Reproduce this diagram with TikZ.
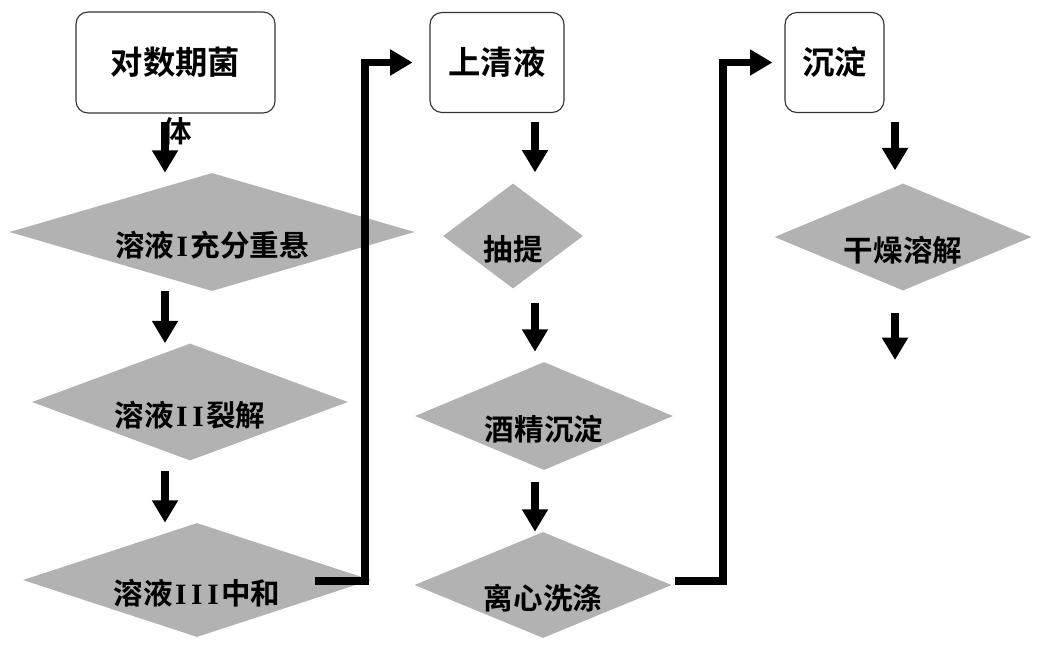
\documentclass[tikz,border=0pt]{standalone}
\usepackage{fontspec}
\setmainfont{Noto Sans CJK SC}[BoldFont=* Bold]
\newfontfamily\serifI{Liberation Serif}
\usetikzlibrary{arrows.meta,shapes.geometric}
\definecolor{procgray}{gray}{0.70}
\newcommand\rmI{\hbox to 0.55em{\hss{\serifI\bfseries I}\hss}}

\begin{document}
\begin{tikzpicture}[x = 0.025cm, y = -0.025cm,
                    box/.style = {draw = black!80, line width = 0.8pt, rounded corners = 0.3cm, fill = white, inner sep = 0pt, font = \fontsize{23pt}{27pt}\selectfont\bfseries},
                    proc/.style = {diamond, fill = procgray, inner sep = 0pt, text height = 1.32cm, text depth = 0.1cm, font = \fontsize{21pt}{25pt}\selectfont\bfseries},
                    flow/.style = {line width = 5pt, line join = miter, -{Triangle[length = 0.56cm, width = 0.62cm]}}]
  \useasboundingbox (0, 0) rectangle (1038, 645);

  % boxes
  \node [box, minimum width = 4.975cm, minimum height = 2.525cm] (B1) at (175.5, 62.5) {对数期菌};
  \node [box, minimum width = 3.35cm, minimum height = 2.5cm] (B2) at (497, 62.5) {上清液};
  \node [box, minimum width = 2.475cm, minimum height = 2.5cm] (B3) at (834.5, 62.5) {沉淀};

  % steps
  \node [proc, aspect = 3.43, minimum width = 10.125cm, minimum height = 2.95cm] (P1) at (212, 232) {溶液\rmI 充分重悬};
  \node [proc, aspect = 2.70, minimum width = 7.9cm, minimum height = 2.925cm] (P2) at (190, 402) {溶液\rmI\rmI 裂解};
  \node [proc, aspect = 3.05, minimum width = 8.7cm, minimum height = 2.85cm] (P3) at (197, 580) {溶液\rmI\rmI\rmI 中和};
  \node [proc, aspect = 1.33, minimum width = 3.5cm, minimum height = 2.625cm] (P4) at (513, 236) {抽提};
  \node [proc, aspect = 2.39, minimum width = 6.45cm, minimum height = 2.7cm] (P5) at (544, 416) {酒精沉淀};
  \node [proc, aspect = 2.42, minimum width = 6.425cm, minimum height = 2.65cm] (P6) at (543, 585) {离心洗涤};
  \node [proc, aspect = 2.40, minimum width = 6.425cm, minimum height = 2.675cm] (P7) at (903, 237) {干燥溶解};

  \node [font = \fontsize{21pt}{25pt}\selectfont\bfseries] (T1) at (177, 131) {体};

  \coordinate (c1) at (165, 0);
  \coordinate (c2) at (535, 0);
  \coordinate (c3) at (895, 0);
  \coordinate (out1) at (315, 581);
  \coordinate (out2) at (675, 581);
  \coordinate (end) at (895, 360);

  \draw [flow, shorten < = 0.22cm] (B1.south -| c1) -- (P1.north -| c1);
  \draw [flow] (P1.south -| c1) -- (P2.north -| c1);
  \draw [flow, shorten < = 0.25cm] (P2.south -| c1) -- (P3.north -| c1);

  \draw [flow, shorten < = 0.22cm, shorten > = 0.27cm] (B2.south -| c2) -- (P4.north -| c2);
  \draw [flow, shorten < = 0.35cm, shorten > = 0.25cm] (P4.south -| c2) -- (P5.north -| c2);
  \draw [flow, shorten < = 0.3cm] (P5.south -| c2) -- (P6.north -| c2);

  \draw [flow, shorten < = 0.22cm, shorten > = 0.32cm] (B3.south -| c3) -- (P7.north -| c3);
  \draw [flow, shorten < = 0.55cm] (P7.south -| c3) -- (end);

  % to the next column
  \draw [flow, shorten > = 0.42cm] (out1) -- ++(50, 0) |- (B2.west);
  \draw [flow, shorten > = 0.3cm] (out2) -- ++(48, 0) |- (B3.west);
\end{tikzpicture}
\end{document}
